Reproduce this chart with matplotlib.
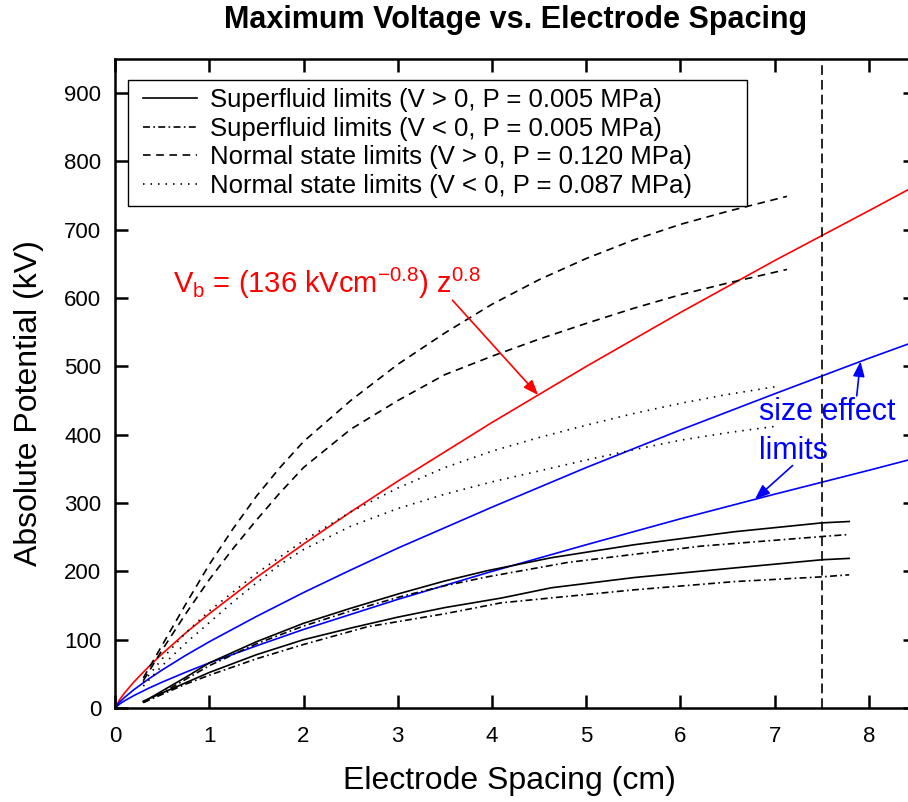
import numpy as np
import matplotlib
matplotlib.use('Agg')
import matplotlib.pyplot as plt
from matplotlib.patches import Rectangle

plt.rcParams['font.family'] = 'Liberation Sans'
plt.rcParams['mathtext.fontset'] = 'custom'
plt.rcParams['mathtext.rm'] = 'Liberation Sans'
plt.rcParams['lines.scale_dashes'] = False

# breakdown fit and size-effect lines
z_fit = [0, 0.05, 0.1, 0.2, 0.35, 0.5, 0.75, 1, 1.5, 2, 2.5, 3, 4, 5, 6, 7, 8, 8.5]
v_breakdown = [0, 12.5, 21.9, 38.1, 59.6, 79.3, 110, 138, 191, 240, 287, 332, 418, 500, 579, 655, 728, 765]
v_size_hi = [0, 8.8, 15.4, 26.8, 41.9, 55.7, 77.1, 97, 134, 169, 202, 234, 294, 352, 407, 460, 512, 537]
v_size_lo = [0, 6.0, 10.5, 18.2, 28.5, 37.9, 52.4, 66, 91, 115, 137, 159, 200, 239, 277, 313, 348, 366]

# superfluid, V > 0 (two geometries)
sf_pos_a_z = [0.3, 0.5, 0.75, 1.0, 1.5, 2.0, 2.5, 3.03, 3.5, 3.95, 4.63, 5.51, 6.57, 7.5, 7.79]
sf_pos_a_v = [9, 25, 45, 66, 97, 124, 146, 168, 186, 201, 220, 239, 258, 271, 273]
sf_pos_b_z = [0.3, 0.5, 0.75, 1.0, 1.5, 2.0, 2.5, 3.0, 3.5, 4.1, 4.63, 5.51, 6.57, 7.5, 7.79]
sf_pos_b_v = [10, 22, 37, 52, 78, 100, 117, 133, 147, 161, 176, 191, 205, 217, 219]

# superfluid, V < 0
sf_neg_a_z = [0.3, 0.5, 0.75, 1.0, 1.5, 2.0, 2.5, 3.03, 3.5, 3.95, 4.8, 6.22, 7.5, 7.79]
sf_neg_a_v = [8, 22, 42, 62, 94, 120, 142, 163, 179, 192, 213, 237, 251, 254]
sf_neg_b_z = [0.3, 0.5, 0.75, 1.0, 1.5, 2.0, 2.68, 3.5, 4.1, 5.51, 6.57, 7.5, 7.79]
sf_neg_b_v = [8, 20, 35, 48, 72, 93, 119, 138, 154, 173, 185, 192, 195]

# normal state, V > 0
ns_pos_a_z = [0.3, 0.5, 0.75, 1.0, 1.25, 1.5, 1.75, 2.0, 2.5, 3.0, 3.5, 4.0, 4.5, 5.0, 5.5, 6.0, 6.5, 7.13]
ns_pos_a_v = [44, 92, 152, 210, 262, 310, 352, 390, 450, 503, 549, 591, 627, 658, 685, 708, 727, 749]
ns_pos_b_z = [0.3, 0.5, 0.75, 1.0, 1.25, 1.5, 1.75, 2.0, 2.5, 3.0, 3.5, 4.0, 4.5, 5.0, 5.5, 6.0, 6.5, 7.13]
ns_pos_b_v = [40, 85, 138, 188, 233, 275, 315, 352, 408, 450, 488, 515, 540, 563, 585, 605, 622, 642]

# normal state, V < 0
ns_neg_a_z = [0.3, 0.5, 0.75, 1.0, 1.5, 2.0, 2.5, 3.0, 3.5, 4.0, 4.5, 5.0, 5.5, 6.0, 6.5, 7.04]
ns_neg_a_v = [38, 72, 110, 142, 197, 245, 287, 322, 352, 376, 396, 414, 431, 446, 459, 471]
ns_neg_b_z = [0.3, 0.5, 0.75, 1.0, 1.25, 1.5, 1.75, 2.0, 2.5, 3.0, 3.5, 4.0, 4.5, 5.0, 5.5, 6.0, 6.5, 7.04]
ns_neg_b_v = [32, 62, 95, 125, 155, 183, 210, 232, 266, 292, 313, 331, 347, 363, 378, 392, 403, 413]

legend_labels = [
    'Superfluid limits (V > 0, P = 0.005 MPa)',
    'Superfluid limits (V < 0, P = 0.005 MPa)',
    'Normal state limits (V > 0, P = 0.120 MPa)',
    'Normal state limits (V < 0, P = 0.087 MPa)',
]

DASH = (0, (5.5, 4))
DASHDOT = (0, (5, 2.4, 1.2, 2.4))
DOT = (0, (1.1, 4.3))
LW = 1.2

fig = plt.figure(figsize=(9.08, 8.02), dpi=100)
ax = fig.add_axes([0.1267, 0.1172, 0.8822, 0.8092])

ax.plot(z_fit, v_breakdown, color='#ff0000', lw=LW)
ax.plot(z_fit, v_size_hi, color='#0000ff', lw=LW)
ax.plot(z_fit, v_size_lo, color='#0000ff', lw=LW)

h1, = ax.plot(sf_pos_a_z, sf_pos_a_v, color='k', lw=LW, ls='-', label=legend_labels[0])
ax.plot(sf_pos_b_z, sf_pos_b_v, color='k', lw=LW, ls='-')
h2, = ax.plot(sf_neg_a_z, sf_neg_a_v, color='k', lw=LW, ls=DASHDOT, label=legend_labels[1])
ax.plot(sf_neg_b_z, sf_neg_b_v, color='k', lw=LW, ls=DASHDOT)
h3, = ax.plot(ns_pos_a_z, ns_pos_a_v, color='k', lw=LW, ls=DASH, label=legend_labels[2])
ax.plot(ns_pos_b_z, ns_pos_b_v, color='k', lw=LW, ls=DASH)
h4, = ax.plot(ns_neg_a_z, ns_neg_a_v, color='k', lw=LW, ls=DOT, label=legend_labels[3])
ax.plot(ns_neg_b_z, ns_neg_b_v, color='k', lw=LW, ls=DOT)

ax.axvline(7.5, color='k', lw=1.2, ls=(0, (7, 3.6)))

ax.set_xlim(0, 8.5)
ax.set_ylim(0, 950)
ax.set_xticks(range(0, 9))
ax.set_yticks(range(0, 1000, 100))
ax.tick_params(direction='in', length=9.5, width=1.8, top=True, right=True, labelsize=16)
ax.tick_params(axis='x', pad=13)
ax.tick_params(axis='y', pad=10)
for s in ax.spines.values():
    s.set_linewidth(1.8)

ax.set_xlabel('Electrode Spacing (cm)', fontsize=23)
ax.set_ylabel('Absolute Potential (kV)', fontsize=23)
ax.xaxis.set_label_coords(0.492, -0.089)
ax.yaxis.set_label_coords(-0.089, 0.47)
ax.set_title('Maximum Voltage vs. Electrode Spacing', fontsize=22, fontweight='bold', pad=22)

# legend box (Origin style, wide frame)
ax.add_patch(Rectangle((0.0162, 0.7735), 0.7728, 0.1941, transform=ax.transAxes,
                       facecolor='white', edgecolor='k', lw=1.0, zorder=4))
leg = ax.legend(handles=[h1, h2, h3, h4], loc='upper left', bbox_to_anchor=(0.035, 0.955),
                frameon=False, fontsize=18.5, handlelength=2.1, handletextpad=0.5,
                labelspacing=0.18, borderpad=0, borderaxespad=0)
leg.set_zorder(5)

# annotations
ax.text(0.62, 608, r'V$_\mathregular{b}$ = (136 kVcm$^\mathregular{-0.8}$) z$^\mathregular{0.8}$',
        color='#ff0000', fontsize=21, ha='left', va='baseline')
tip_z = 4.49
ax.annotate('', xy=(tip_z, np.interp(tip_z, z_fit, v_breakdown)), xytext=(3.58, 597),
            arrowprops=dict(arrowstyle='-|>,head_length=0.9,head_width=0.35', color='#ff0000',
                            lw=1.2, shrinkA=0, shrinkB=0))

ax.text(6.83, 422, 'size effect', color='#0000ff', fontsize=22, ha='left', va='baseline')
ax.text(6.83, 365, 'limits', color='#0000ff', fontsize=22, ha='left', va='baseline')
hi_z = 7.91
ax.annotate('', xy=(hi_z, np.interp(hi_z, z_fit, v_size_hi)), xytext=(7.87, 457),
            arrowprops=dict(arrowstyle='-|>,head_length=0.9,head_width=0.35', color='#0000ff',
                            lw=1.2, shrinkA=0, shrinkB=0))
lo_z = 6.79
ax.annotate('', xy=(lo_z, np.interp(lo_z, z_fit, v_size_lo)), xytext=(7.19, 355),
            arrowprops=dict(arrowstyle='-|>,head_length=0.9,head_width=0.35', color='#0000ff',
                            lw=1.2, shrinkA=0, shrinkB=0))

fig.savefig('out.png', dpi=100)
